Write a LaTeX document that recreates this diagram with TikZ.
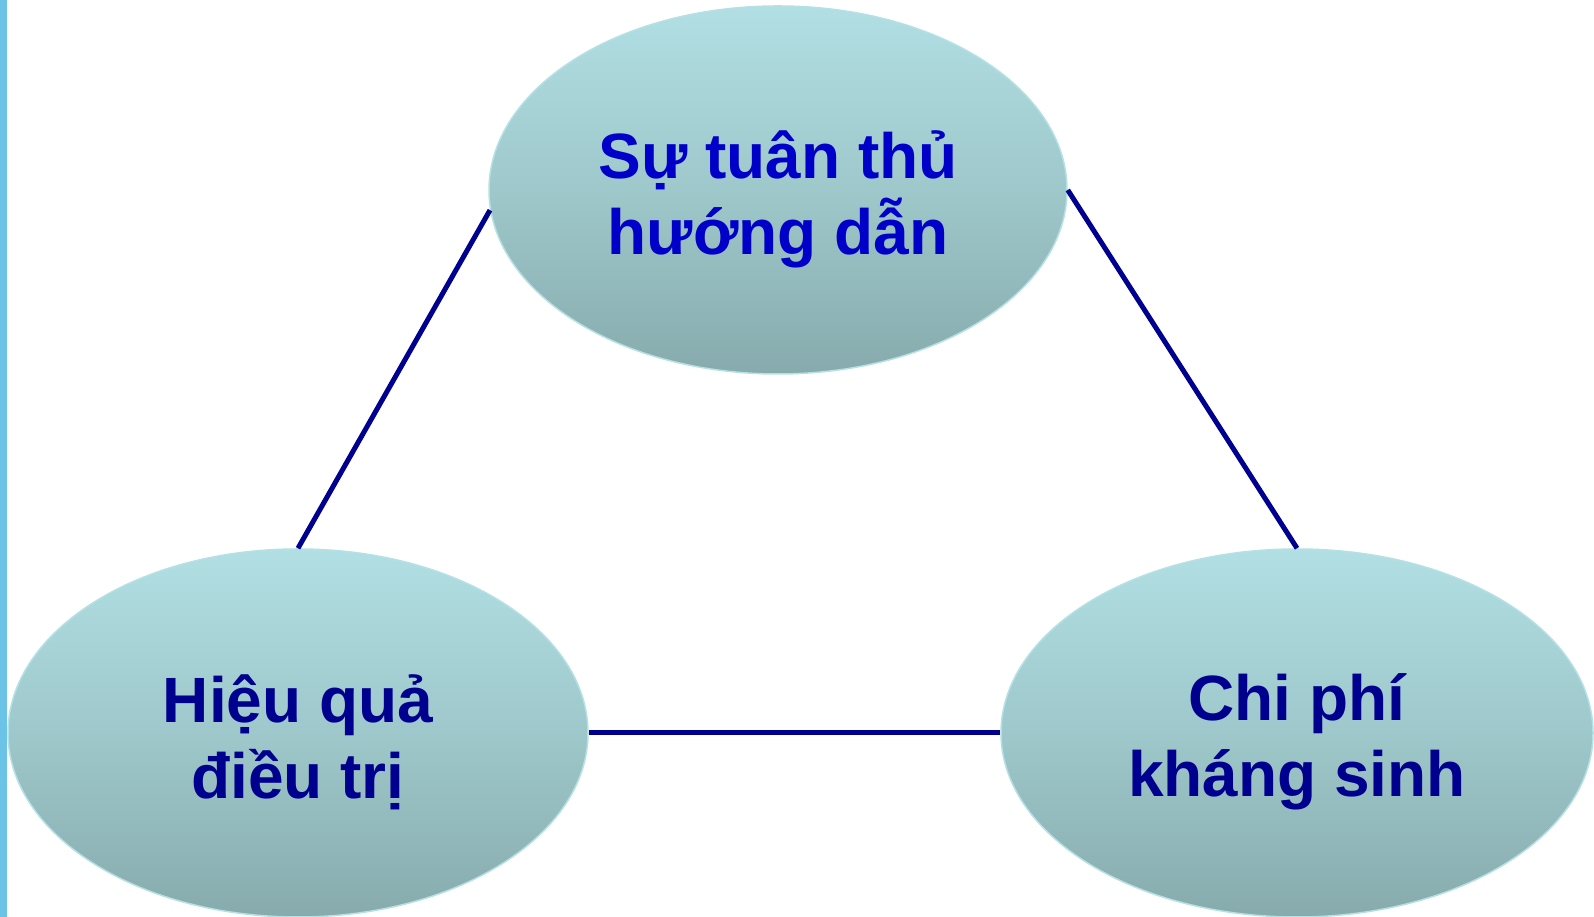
\documentclass[tikz,border=0pt]{standalone}
\usepackage{fontspec}
\setmainfont{Liberation Sans}
\usetikzlibrary{shapes.geometric}
\definecolor{barblue}{HTML}{6BC4E7}
\definecolor{elltop}{HTML}{B1DFE3}
\definecolor{ellbot}{HTML}{87ABAD}
\definecolor{ellline}{HTML}{B5E0E4}
\definecolor{navy}{HTML}{00008F}
\definecolor{brightblue}{HTML}{0000C8}
\definecolor{linknavy}{HTML}{000090}
\tikzset{
  bubble/.style={ellipse, draw=ellline, line width=1.5pt, top color=elltop, bottom color=ellbot,
    middle color=elltop!55!ellbot, inner sep=0pt, minimum height=368pt},
  bubbletext/.style={align=center, inner sep=0pt, font=\fontsize{64}{76}\selectfont\bfseries},
  link/.style={draw=linknavy, line width=5pt}
}
\begin{document}
\begin{tikzpicture}[x=1pt,y=1pt]
\useasboundingbox (0,0) rectangle (1594,917);
\clip (0,0) rectangle (1594,917);
\fill[white] (0,0) rectangle (1594,917);
\fill[barblue] (0,0) rectangle (7,917);
\node[bubble, minimum width=578pt] (top) at (778,727) {};
\node[bubble, minimum width=580pt] (left) at (298,184) {};
\node[bubble, minimum width=592pt] (right) at (1297,184) {};
\node[bubbletext, text=brightblue] (toptext) at ([yshift=-9pt]top.center) {Sự tuân thủ\\hướng dẫn};
\node[bubbletext, text=navy] (lefttext) at ([yshift=-9pt]left.center) {Hiệu quả\\điều trị};
\node[bubbletext, text=navy] (righttext) at ([yshift=-9pt]right.center) {Chi phí\\kháng sinh};
\draw[link] (top.184) -- (left.north);
\draw[link] (top.east) -- (right.north);
\draw[link] (left.east) -- (right.west);
\end{tikzpicture}
\end{document}
